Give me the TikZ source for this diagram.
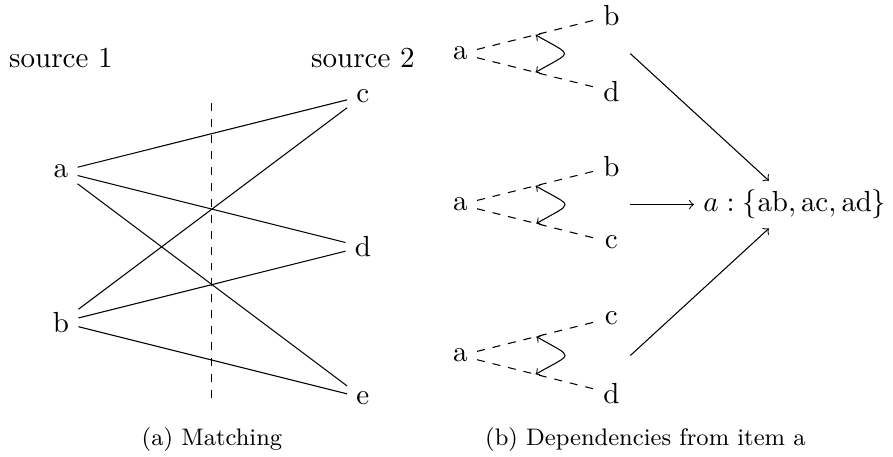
\documentclass[tikz,border=0pt]{standalone}
\usepackage{amsmath}
\usepackage{tikz}

\begin{document}
\begin{tikzpicture}[
    font=\fontsize{10.95}{13.6}\selectfont,
    subcap/.style={font=\fontsize{9}{11}\selectfont},
    flip/.style={<->, looseness=3},
  ]
  \useasboundingbox (0,0) rectangle (11.83,6.05);

  % (a) two sources and the cut between them
  \begin{scope}[shift={(0.808,0.78)}]
    \node (src1) at (0,4.5) {source 1};
    \node (src2) at (4,4.5) {source 2};

    \node (a) at (0,3) {a};
    \node (b) at (0,1) {b};
    \node (c) at (4,4) {c};
    \node (d) at (4,2) {d};
    \node (e) at (4,0) {e};

    % Candidate pairs
    \draw (a) -- (c);
    \draw (a) -- (d);
    \draw (a) -- (e);
    \draw (b) -- (c);
    \draw (b) -- (d);
    \draw (b) -- (e);

    % Cut
    \coordinate (cutbot) at (2,0);
    \coordinate (cuttop) at (2,4);
    \draw[dashed] (cutbot) -- (cuttop);

    \node[subcap] (capa) at (2,-0.55) {(a) Matching};
  \end{scope}

  % (b) pairs of item a
  \begin{scope}[shift={(6.1,1.34)}]
    \node (a1) at (0,4) {a};
    \node (b1) at (2,4.5) {b};
    \node (d1) at (2,3.5) {d};
    \draw[dashed] (a1) -- coordinate (p1) (b1);
    \draw[dashed] (a1) -- coordinate (q1) (d1);
    \draw[flip] (p1) to[out=-30, in=30] (q1);

    \node (a2) at (0,2) {a};
    \node (b2) at (2,2.5) {b};
    \node (c2) at (2,1.5) {c};
    \draw[dashed] (a2) -- coordinate (p2) (b2);
    \draw[dashed] (a2) -- coordinate (q2) (c2);
    \draw[flip] (p2) to[out=-30, in=30] (q2);

    \node (a3) at (0,0) {a};
    \node (c3) at (2,0.5) {c};
    \node (d3) at (2,-0.5) {d};
    \draw[dashed] (a3) -- coordinate (p3) (c3);
    \draw[dashed] (a3) -- coordinate (q3) (d3);
    \draw[flip] (p3) to[out=-30, in=30] (q3);

    % Merged result
    \node (res) at (4.43,2) {$a:\{\mathrm{ab},\mathrm{ac},\mathrm{ad}\}$};
    \coordinate (g1) at (2.25,4);
    \coordinate (g2) at (2.25,2);
    \coordinate (g3) at (2.25,0);
    \draw[->] (g1) -- (res);
    \draw[->] (g2) -- (res);
    \draw[->] (g3) -- (res);

    \node[subcap] (capb) at (2.45,-1.11) {(b) Dependencies from item a};
  \end{scope}

\end{tikzpicture}
\end{document}
